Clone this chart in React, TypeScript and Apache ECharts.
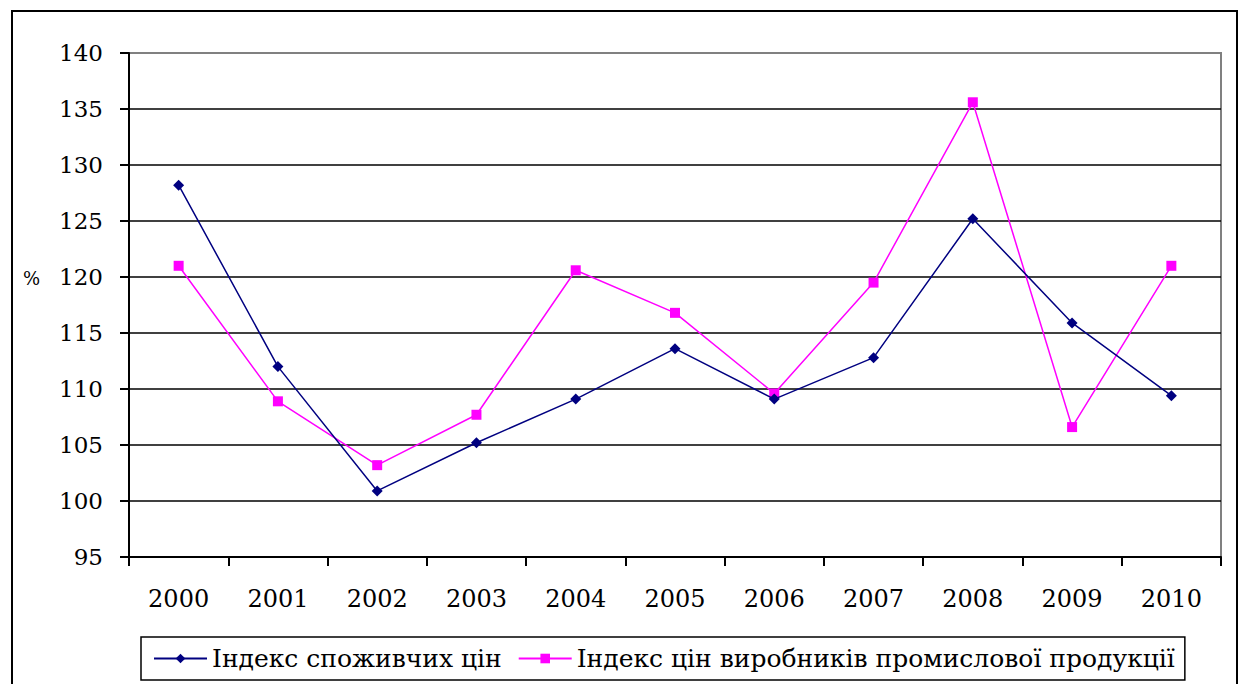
import React, { useEffect, useRef } from "react";
import * as echarts from "echarts";

const years = ["2000", "2001", "2002", "2003", "2004", "2005", "2006", "2007", "2008", "2009", "2010"];
const cpi = [128.2, 112.0, 100.9, 105.2, 109.1, 113.6, 109.1, 112.8, 125.2, 115.9, 109.4];
const ppi = [121.0, 108.9, 103.2, 107.7, 120.6, 116.8, 109.6, 119.5, 135.6, 106.6, 121.0];
const cpiName = "Індекс споживчих цін";
const ppiName = "Індекс цін виробників промислової продукції";
const yMin = 95;
const yMax = 140;
const yStep = 5;

const FONT = "DejaVu Serif";

export default function App() {
  const ref = useRef<HTMLDivElement>(null);
  useEffect(() => {
    if (!ref.current) return;
    const chart = echarts.init(ref.current, null, { renderer: "svg" });
    const nLines = (yMax - yMin) / yStep + 1;
    const splitColors = Array.from({ length: nLines }, (_, i) => (i === nLines - 1 ? "#808080" : "#000000"));
    chart.setOption({
      animation: false,
      backgroundColor: "#ffffff",
      textStyle: { fontFamily: FONT },
      graphic: [
        {
          type: "rect",
          shape: { x: 12, y: 11, width: 1225, height: 720 },
          style: { fill: "none", stroke: "#000", lineWidth: 2 },
          silent: true,
          z: 0,
        },
        {
          type: "text",
          left: 23,
          top: 269,
          style: { text: "%", fontSize: 18, fontFamily: FONT, fill: "#000" },
        },
      ],
      grid: {
        left: 129,
        right: 21,
        top: 53,
        bottom: 127,
        show: true,
        borderColor: "#808080",
        borderWidth: 2,
      },
      legend: {
        left: 141,
        top: 637,
        orient: "horizontal",
        itemWidth: 53,
        itemHeight: 12,
        itemGap: 16,
        padding: [9, 10, 9, 12],
        borderColor: "#000",
        borderWidth: 1.5,
        textStyle: { fontSize: 25, fontFamily: FONT, color: "#000" },
        data: [cpiName, ppiName],
      },
      xAxis: {
        type: "category",
        data: years,
        boundaryGap: true,
        axisLine: { lineStyle: { color: "#000", width: 2 } },
        axisTick: { show: true, alignWithLabel: false, length: 9, lineStyle: { color: "#000", width: 2 } },
        axisLabel: { fontSize: 24, fontFamily: FONT, color: "#000", margin: 30 },
        splitLine: { show: false },
      },
      yAxis: {
        type: "value",
        min: yMin,
        max: yMax,
        interval: yStep,
        axisLine: { show: true, lineStyle: { color: "#000", width: 2 } },
        axisTick: { show: true, length: 9, lineStyle: { color: "#000", width: 2 } },
        axisLabel: { fontSize: 23, fontFamily: FONT, color: "#000", margin: 26 },
        splitLine: { show: true, lineStyle: { color: splitColors, width: 1.5 } },
      },
      series: [
        {
          name: cpiName,
          type: "line",
          data: cpi,
          symbol: "diamond",
          symbolSize: 11,
          itemStyle: { color: "#000080" },
          lineStyle: { color: "#000080", width: 1.5 },
          z: 3,
        },
        {
          name: ppiName,
          type: "line",
          data: ppi,
          symbol: "rect",
          symbolSize: 10,
          itemStyle: { color: "#ff00ff" },
          lineStyle: { color: "#ff00ff", width: 1.5 },
          z: 2,
        },
      ],
    });
    return () => chart.dispose();
  }, []);
  return (
    <div
      ref={ref}
      style={{ position: "fixed", left: 0, top: 0, width: 1242, height: 684, background: "#fff" }}
    />
  );
}
